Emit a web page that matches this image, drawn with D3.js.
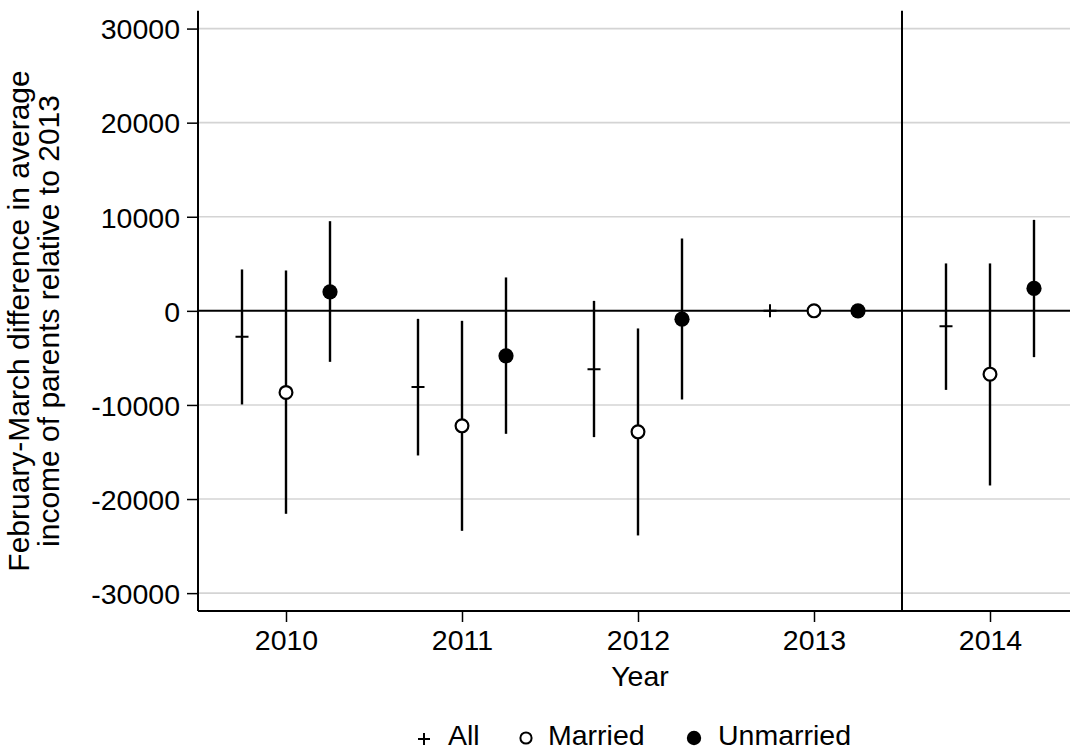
<!DOCTYPE html>
<html><head><meta charset="utf-8">
<script src="https://cdn.jsdelivr.net/npm/d3@7"></script>
<style>
body{margin:0;background:#fff;}
text{font-family:"Liberation Sans",Arial,sans-serif;fill:#000;}
</style></head>
<body>
<svg id="chart" width="1070" height="753"></svg>
<script>
const years = [2010, 2011, 2012, 2013, 2014];
const seriesNames = ["All", "Married", "Unmarried"];
const offsets = [-0.25, 0, 0.25];
const allEst = [-2760, -8080, -6200, 0, -1630];
const allLo  = [-9950, -15370, -13420, 0, -8400];
const allHi  = [4400, -850, 1060, 0, 5040];
const marEst = [-8670, -12220, -12860, 0, -6730];
const marLo  = [-21570, -23380, -23870, 0, -18560];
const marHi  = [4290, -1060, -1870, 0, 5040];
const unmEst = [2020, -4780, -880, 0, 2380];
const unmLo  = [-5420, -13070, -9420, 0, -4920];
const unmHi  = [9530, 3550, 7690, 0, 9670];
const yTicks = [-30000, -20000, -10000, 0, 10000, 20000, 30000];
const yTickLabels = ["-30000", "-20000", "-10000", "0", "10000", "20000", "30000"];
const cutoff = 2013.5;

const svg = d3.select("#chart");
const x = d3.scaleLinear().domain([2009.5, 2014.5]).range([198, 1078]);
const y = d3.scaleLinear().domain([-31900, 31900]).range([611, 10.7]);

// gridlines
svg.append("g").selectAll("line").data(yTicks.filter(d => d !== 0)).join("line")
  .attr("x1", x(2009.5)).attr("x2", 1070)
  .attr("y1", d => y(d)).attr("y2", d => y(d))
  .attr("stroke", "#d4d4d4").attr("stroke-width", 1.6);

// zero line
svg.append("line").attr("x1", x(2009.5)).attr("x2", 1070)
  .attr("y1", y(0)).attr("y2", y(0)).attr("stroke", "#000").attr("stroke-width", 2);
// cutoff line
svg.append("line").attr("x1", x(cutoff)).attr("x2", x(cutoff))
  .attr("y1", y(31900)).attr("y2", y(-31900)).attr("stroke", "#000").attr("stroke-width", 2);

// axes
const yAxis = d3.axisLeft(y).tickValues(yTicks).tickSize(11).tickPadding(7)
  .tickFormat((d, i) => yTickLabels[i]);
const gy = svg.append("g").attr("transform", `translate(${x(2009.5)},0)`).call(yAxis);
gy.select(".domain").attr("stroke-width", 2).attr("d", `M0,${y(31900)}V${y(-31900)}`);
gy.selectAll(".tick line").attr("stroke-width", 1.5);
gy.selectAll(".tick text").attr("font-size", 28.5).attr("dy", "0.36em")
  .style("font-family", '"Liberation Sans",Arial,sans-serif');

const xAxis = d3.axisBottom(x).tickValues(years).tickSize(11).tickPadding(8).tickFormat(d3.format("d"));
const gx = svg.append("g").attr("transform", `translate(0,${y(-31900)})`).call(xAxis);
gx.select(".domain").attr("stroke-width", 2).attr("d", `M${x(2009.5)},0H1070`);
gx.selectAll(".tick line").attr("stroke-width", 1.5);
gx.selectAll(".tick text").attr("font-size", 28.5).attr("dy", "0.71em")
  .style("font-family", '"Liberation Sans",Arial,sans-serif');

// titles
svg.append("text").attr("x", 640).attr("y", 686).attr("text-anchor", "middle")
  .attr("font-size", 28.5).text("Year");
const yl = svg.append("text").attr("text-anchor", "middle").attr("font-size", 30)
  .attr("transform", "translate(0,321) rotate(-90)");
yl.append("tspan").attr("x", 0).attr("y", 29).text("February-March difference in average");
yl.append("tspan").attr("x", 0).attr("y", 59).text("income of parents relative to 2013");

// data
const series = [
  {name: seriesNames[0], est: allEst, lo: allLo, hi: allHi, off: offsets[0], type: "plus"},
  {name: seriesNames[1], est: marEst, lo: marLo, hi: marHi, off: offsets[1], type: "hollow"},
  {name: seriesNames[2], est: unmEst, lo: unmLo, hi: unmHi, off: offsets[2], type: "filled"}
];
series.forEach(s => {
  const pts = years.map((yr, i) => ({x: yr + s.off, e: s.est[i], lo: s.lo[i], hi: s.hi[i]}));
  const g = svg.append("g");
  g.selectAll("line.ci").data(pts.filter(p => p.hi !== p.lo)).join("line").attr("class", "ci")
    .attr("x1", p => x(p.x)).attr("x2", p => x(p.x))
    .attr("y1", p => y(p.lo)).attr("y2", p => y(p.hi))
    .attr("stroke", "#000").attr("stroke-width", 2.4);
  if (s.type === "plus") {
    g.selectAll("path.m").data(pts).join("path").attr("class", "m")
      .attr("d", p => `M${x(p.x)-6.5},${y(p.e)}h13M${x(p.x)},${y(p.e)-6.5}v13`)
      .attr("stroke", "#000").attr("stroke-width", 2).attr("fill", "none");
  } else {
    g.selectAll("circle.m").data(pts).join("circle").attr("class", "m")
      .attr("cx", p => x(p.x)).attr("cy", p => y(p.e))
      .attr("r", s.type === "hollow" ? 6.4 : 7.6)
      .attr("fill", s.type === "hollow" ? "#fff" : "#000")
      .attr("stroke", s.type === "hollow" ? "#000" : "none")
      .attr("stroke-width", 2.2);
  }
});

// legend
const lg = svg.append("g");
const legX = [424, 526, 694];
const legTX = [448, 548, 718];
const ly = 738;
lg.append("path").attr("d", `M${legX[0]-6},${ly+1}h12M${legX[0]},${ly-5}v12`)
  .attr("stroke", "#000").attr("stroke-width", 2);
lg.append("circle").attr("cx", legX[1]).attr("cy", ly).attr("r", 5.6)
  .attr("fill", "#fff").attr("stroke", "#000").attr("stroke-width", 2);
lg.append("circle").attr("cx", legX[2]).attr("cy", ly).attr("r", 7.2).attr("fill", "#000");
seriesNames.forEach((n, i) => {
  lg.append("text").attr("x", legTX[i]).attr("y", 745).attr("font-size", 28.5).text(n);
});
</script>
</body></html>
